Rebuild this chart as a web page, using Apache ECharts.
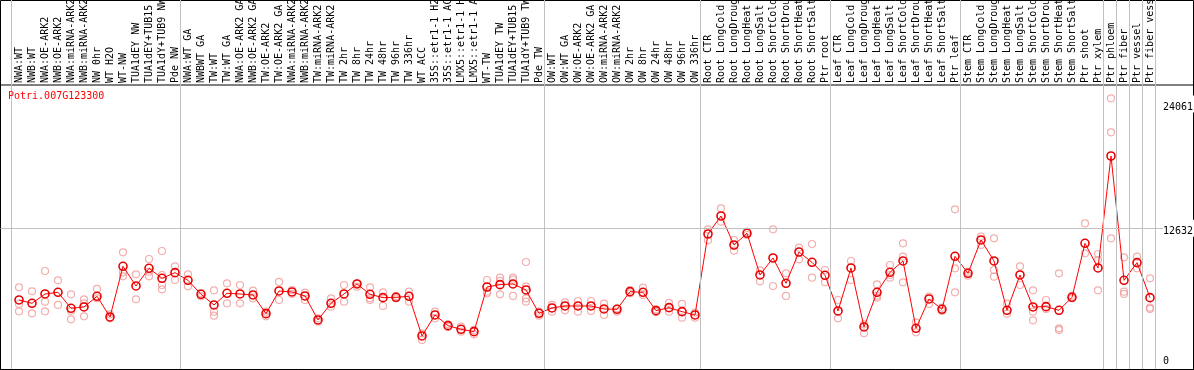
<!DOCTYPE html>
<html>
<head>
<meta charset="utf-8">
<title>Potri.007G123300</title>
<script src="https://cdn.jsdelivr.net/npm/echarts@6/dist/echarts.min.js"></script>
<style>
    html, body { margin: 0; padding: 0; background: #fff; }
    #chart { width: 1194px; height: 370px; }
</style>
</head>
<body>
<div id="chart"></div>
<script>
    // sample names (one column each)
    const categories = [
        'NWA:WT', 'NWB:WT', 'NWA:OE-ARK2', 'NWB:OE-ARK2', 'NWA:miRNA-ARK2', 'NWB:miRNA-ARK2',
        'NW 0hr', 'WT H2O', 'WT-NW', 'TUA1dEY NW', 'TUA1dEY+TUB15 NW', 'TUA1dY+TUB9 NW', 'Pde NW',
        'NWA:WT GA', 'NWBWT GA', 'TW:WT', 'TW:WT GA', 'NWA:OE-ARK2 GA', 'NWB:OE-ARK2 GA',
        'TW:OE-ARK2', 'TW:OE-ARK2 GA', 'NWA:miRNA-ARK2 GA', 'NWB:miRNA-ARK2 GA', 'TW:miRNA-ARK2',
        'TW:miRNA-ARK2 GA', 'TW 2hr', 'TW 8hr', 'TW 24hr', 'TW 48hr', 'TW 96hr', 'TW 336hr',
        'WT ACC', '35S::etr1-1 H2O', '35S::etr1-1 ACC', 'LMX5::etr1-1 H2O', 'LMX5::etr1-1 ACC',
        'WT-TW', 'TUA1dEY TW', 'TUA1dEY+TUB15 TW', 'TUA1dY+TUB9 TW', 'Pde TW',
        'OW:WT', 'OW:WT GA', 'OW:OE-ARK2', 'OW:OE-ARK2 GA', 'OW:miRNA-ARK2', 'OW:miRNA-ARK2 GA',
        'OW 2hr', 'OW 8hr', 'OW 24hr', 'OW 48hr', 'OW 96hr', 'OW 336hr',
        'Root CTR', 'Root LongCold', 'Root LongDrought', 'Root LongHeat', 'Root LongSalt',
        'Root ShortCold', 'Root ShortDrought', 'Root ShortHeat', 'Root ShortSalt', 'Ptr root',
        'Leaf CTR', 'Leaf LongCold', 'Leaf LongDrought', 'Leaf LongHeat', 'Leaf LongSalt',
        'Leaf ShortCold', 'Leaf ShortDrought', 'Leaf ShortHeat', 'Leaf ShortSalt', 'Ptr leaf',
        'Stem CTR', 'Stem LongCold', 'Stem LongDrought', 'Stem LongHeat', 'Stem LongSalt',
        'Stem ShortCold', 'Stem ShortDrought', 'Stem ShortHeat', 'Stem ShortSalt', 'Ptr shoot',
        'Ptr xylem', 'Ptr phloem', 'Ptr fiber', 'Ptr vessel', 'Ptr fiber vessel'
    ];

    // columns per experiment block (gray separators between them)
    const groupSizes = [13, 28, 12, 10, 10, 11, 1, 1, 1, 1];

    // mean expression per sample
    const meanValues = [
        6047, 5741, 6599, 6752, 5282, 5404, 6384, 4486, 9140, 7333, 8956, 8038, 8558,
        7854, 6568, 5588, 6660, 6599, 6507, 4792, 6874, 6782, 6415, 4210, 5741, 6599, 7517,
        6568, 6262, 6292, 6384, 2741, 4669, 3690, 3353, 3139, 7241, 7456, 7517, 6966, 4822,
        5313, 5496, 5496, 5496, 5221, 5190, 6813, 6752, 5067, 5343, 4976, 4669,
        12110, 13763, 11099, 12171, 8344, 9905, 7578, 10456, 9507, 8313,
        5037, 8987, 3567, 6752, 8589, 9630, 3445, 6139, 5190, 10058,
        8497, 11559, 9630, 5098, 8344, 5404, 5435, 5098, 6292, 11253, 8987,
        19275, 7854, 9477, 6262
    ];

    // individual replicates per sample
    const replicateValues = [
        [7211, 5680, 5006], [6843, 4822], [8711, 5894, 5006], [7854, 5588], [6568, 5037, 4271],
        [6109, 5741, 4547], [7058, 6201], [4731, 4363], [10425, 8589, 8221], [8405, 6109],
        [9813, 8650, 8221], [10548, 8344, 7425, 7027], [9140, 7884],
        [8405, 7302], [6690, 6384], [6935, 4976, 4608], [7578, 5741], [7425, 5741], [6905, 6201],
        [4976, 4547], [7701, 6047], [6966, 6599], [6721, 6047], [4363, 4057], [6201, 5435],
        [7425, 5894], [7578, 7272], [7211, 6201, 6047], [6752, 5496], [6415, 6201], [6813, 5894],
        [2985, 2374], [4976, 4363], [3812, 3567], [3598, 3139], [3292, 2894],
        [7884, 6813, 6660], [8099, 7793, 6568], [8099, 7915, 6415], [9538, 7272, 6201, 5894],
        [4976, 4608],
        [5588, 4976], [5833, 5098], [5955, 4976], [5955, 5037], [5710, 4669], [5282, 4976],
        [6966, 6660], [7180, 6507], [5190, 4945], [5772, 4976], [5680, 4425], [4884, 4425],
        [12539, 11528], [14468, 13243], [11559, 10579], [12324, 12018], [8772, 7762],
        [12539, 7333], [8497, 6415], [10854, 9782], [11191, 8099], [8803, 7670],
        [6047, 4363], [9630, 7884], [3812, 2985], [7486, 6445, 6262], [9262, 8344, 8099],
        [11253, 10028, 7670], [3996, 3077], [6353, 5680], [5343, 5037], [14376, 8956, 6752],
        [8650, 8283], [11865, 11099], [11712, 8803, 8191], [5710, 4792], [9140, 7425],
        [6935, 4976, 4180], [6047, 5221], [8497, 3445, 3292], [6445, 6201], [13090, 10334],
        [10272, 9721, 6935],
        [24572, 21449, 11712], [9966, 6813, 6599], [10028, 8956], [8038, 5343, 5221]
    ];

    // labelled values on the right axis
    const yTicks = [0, 12632, 24061];

    const geneName = 'Potri.007G123300';

    const MONO = 'DejaVu Sans Mono';

    // replicate dots as [column, value]
    let replicatePoints = [];
    replicateValues.forEach((reps, idx) => {
        reps.forEach((v) => {
            replicatePoints.push([idx, v]);
        });
    });

    // block boundaries in column units
    let boundaries = [0];
    groupSizes.forEach((n) => {
        boundaries.push(boundaries[boundaries.length - 1] + n);
    });

    const Y_MIN = -294;
    const Y_MAX = 25797;

    let option = {
        animation: false,
        backgroundColor: '#fff',
        title: {
            text: geneName,
            left: 8,
            top: 91,
            padding: 0,
            textStyle: {
                color: '#ff0000',
                fontFamily: MONO,
                fontSize: 10,
                fontWeight: 'normal'
            }
        },
        grid: [
            // 0: data
            { left: 12.5, width: 1144, top: 85, bottom: 1, outerBoundsMode: 'none' },
            // 1: whole frame
            { left: 0.5, right: 0.5, top: 0.5, bottom: 0.5, outerBoundsMode: 'none', show: true, borderColor: '#000', borderWidth: 1, backgroundColor: 'transparent' },
            // 2: plot frame
            { left: 0.5, right: 0.5, top: 85, bottom: 0.5, outerBoundsMode: 'none', show: true, borderColor: '#000', borderWidth: 1, backgroundColor: 'transparent' },
            // 3: block separators (run through label area too)
            { left: 11, width: 1144, top: 0, bottom: 1, outerBoundsMode: 'none' }
        ],
        xAxis: [
            {
                gridIndex: 0,
                type: 'category',
                data: categories,
                position: 'top',
                boundaryGap: true,
                axisLine: { show: false },
                axisTick: { show: false },
                splitLine: { show: false },
                axisLabel: {
                    interval: 0,
                    rotate: 90,
                    margin: 2,
                    align: 'left',
                    verticalAlign: 'middle',
                    color: '#000',
                    fontFamily: MONO,
                    fontSize: 10
                }
            },
            { gridIndex: 1, type: 'value', show: false, min: 0, max: 1 },
            { gridIndex: 2, type: 'value', show: false, min: 0, max: 1 },
            { gridIndex: 3, type: 'value', show: false, min: 0, max: categories.length }
        ],
        yAxis: [
            {
                gridIndex: 0,
                type: 'value',
                position: 'right',
                min: Y_MIN,
                max: Y_MAX,
                z: 10,
                axisLine: { show: false },
                axisTick: { show: false },
                splitLine: { show: false },
                axisLabel: {
                    customValues: yTicks,
                    margin: 6.5,
                    color: '#000',
                    fontFamily: MONO,
                    fontSize: 10,
                    formatter: (v) => (v === 0 ? '{lo|' + v + '}' : '{hi|' + v + '}'),
                    rich: {
                        hi: { fontFamily: MONO, fontSize: 10, color: '#000', padding: [7, 2, 0, 0], backgroundColor: '#fff' },
                        lo: { fontFamily: MONO, fontSize: 10, color: '#000', padding: [0, 0, 8, 0] }
                    }
                }
            },
            { gridIndex: 1, type: 'value', show: false, min: 0, max: 1 },
            { gridIndex: 2, type: 'value', show: false, min: Y_MIN, max: Y_MAX },
            { gridIndex: 3, type: 'value', show: false, min: 0, max: 1 }
        ],
        series: [
            {
                // gray block separators
                type: 'line',
                xAxisIndex: 3,
                yAxisIndex: 3,
                data: [],
                silent: true,
                markLine: {
                    silent: true,
                    symbol: ['none', 'none'],
                    label: { show: false },
                    lineStyle: { color: '#c0c0c0', type: 'solid', width: 1 },
                    data: boundaries.map((b) => ({ xAxis: b }))
                }
            },
            {
                // gray reference line at the mid tick
                type: 'line',
                xAxisIndex: 2,
                yAxisIndex: 2,
                data: [],
                silent: true,
                markLine: {
                    silent: true,
                    symbol: ['none', 'none'],
                    label: { show: false },
                    lineStyle: { color: '#c0c0c0', type: 'solid', width: 1 },
                    data: [{ yAxis: yTicks[1] }]
                }
            },
            {
                name: 'replicates',
                type: 'scatter',
                xAxisIndex: 0,
                yAxisIndex: 0,
                data: replicatePoints,
                symbol: 'circle',
                symbolSize: 7,
                itemStyle: {
                    color: 'rgba(0,0,0,0)',
                    borderColor: '#f09a9a',
                    borderWidth: 1.2
                }
            },
            {
                name: geneName,
                type: 'line',
                xAxisIndex: 0,
                yAxisIndex: 0,
                data: meanValues,
                symbol: 'circle',
                symbolSize: 8,
                showAllSymbol: true,
                lineStyle: { color: '#ff0000', width: 1 },
                itemStyle: {
                    color: 'rgba(0,0,0,0)',
                    borderColor: '#e80000',
                    borderWidth: 1.6
                }
            }
        ]
    };

    let chart = echarts.init(document.getElementById('chart'));
    chart.setOption(option);
</script>
</body>
</html>
